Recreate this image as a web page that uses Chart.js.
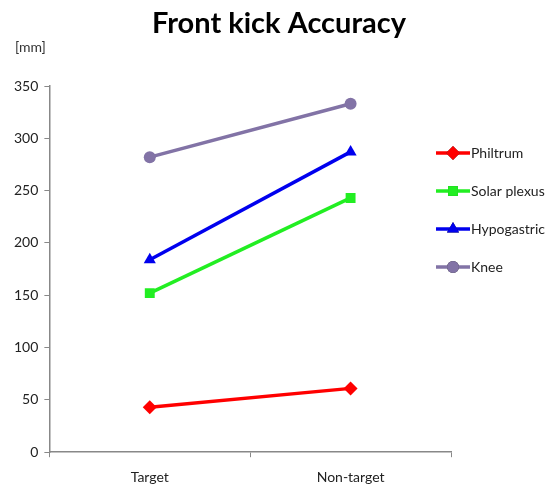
<!DOCTYPE html>
<html>
<head>
<meta charset="utf-8">
<script src="https://cdn.jsdelivr.net/npm/chart.js@4/dist/chart.umd.min.js"></script>
<style>
  html, body { margin: 0; padding: 0; background: #fff; }
  #wrap { width: 560px; height: 487px; }
</style>
</head>
<body>
<div id="wrap"><canvas id="chartCanvas"></canvas></div>
<script>
const TITLE = "Front kick Accuracy";
const UNIT_LABEL = "[mm]";
const categories = ["Target", "Non-target"];

const philtrum = [43, 61];
const solarPlexus = [152, 243];
const hypogastric = [184, 287];
const knee = [282, 333];

const seriesNames = ["Philtrum", "Solar plexus", "Hypogastric", "Knee"];
const seriesData = [philtrum, solarPlexus, hypogastric, knee];
const COLORS = ["#ff0000", "#22ee22", "#0000ee", "#8273a6"];
const MARKERS = ["rectRot", "rect", "triangle", "circle"];
const MARKER_SIZE = [7, 7, 7, 6];

const yTicks = [0, 50, 100, 150, 200, 250, 300, 350];

let datasets = [];
for (let i = 0; i < seriesNames.length; i++) {
  datasets.push({
    label: seriesNames[i],
    data: seriesData[i],
    borderColor: COLORS[i],
    backgroundColor: COLORS[i],
    borderWidth: 3.5,
    pointStyle: MARKERS[i],
    pointRadius: MARKER_SIZE[i],
    pointHoverRadius: MARKER_SIZE[i],
    pointBorderWidth: 0,
    tension: 0
  });
}

// title, unit label and line+marker legend
const extras = {
  id: 'extras',
  afterDraw(chart) {
    const ctx = chart.ctx;
    ctx.save();
    ctx.fillStyle = '#000';
    ctx.font = 'bold 29px Lato';
    ctx.textAlign = 'center';
    ctx.textBaseline = 'middle';
    ctx.fillText(TITLE, 279, 24);

    ctx.font = '14px Lato';
    ctx.fillStyle = '#333';
    ctx.textAlign = 'left';
    ctx.fillText(UNIT_LABEL, 15, 47);

    let y0 = 153;
    for (let i = 0; i < seriesNames.length; i++) {
      let y = y0 + i * 38;
      ctx.strokeStyle = COLORS[i];
      ctx.lineWidth = 3.5;
      ctx.beginPath();
      ctx.moveTo(436, y);
      ctx.lineTo(470, y);
      ctx.stroke();
      Chart.helpers.drawPoint(ctx, {
        pointStyle: MARKERS[i],
        radius: MARKER_SIZE[i],
        rotation: 0,
        borderWidth: 0
      }, 453, y);
      ctx.fillStyle = COLORS[i];
      ctx.fill();
      ctx.fillStyle = '#222';
      ctx.fillText(seriesNames[i], 471, y);
    }
    ctx.restore();
  }
};

new Chart(document.getElementById('chartCanvas').getContext('2d'), {
  type: 'line',
  data: { labels: categories, datasets: datasets },
  options: {
    responsive: true,
    maintainAspectRatio: false,
    animation: false,
    layout: { padding: { top: 86, right: 109, left: 8, bottom: -11 } },
    plugins: {
      legend: { display: false },
      title: { display: false },
      tooltip: { enabled: false }
    },
    scales: {
      x: {
        offset: true,
        grid: { drawOnChartArea: false, color: '#888', tickLength: 5, offset: true },
        border: { color: '#888', width: 1.5 },
        ticks: { color: '#222', font: { family: 'Lato', size: 14 }, padding: 12 }
      },
      y: {
        min: 0,
        max: 350,
        afterBuildTicks: (axis) => { axis.ticks = yTicks.map(v => ({ value: v })); },
        grid: { drawOnChartArea: false, color: '#888', tickLength: 5 },
        border: { color: '#888', width: 1.5 },
        ticks: { color: '#222', font: { family: 'Lato', size: 14 }, padding: 6 }
      }
    }
  },
  plugins: [extras]
});
</script>
</body>
</html>
